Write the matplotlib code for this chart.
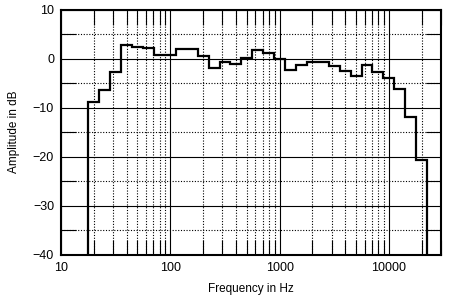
import matplotlib
matplotlib.use('Agg')
import matplotlib.pyplot as plt
from matplotlib.ticker import LogLocator, FixedLocator, NullFormatter

# third-octave band edges (Hz) and measured level per band (dB)
band_edges = [17.8, 22.4, 28.2, 35.5, 44.7, 56.2, 70.8, 89.1, 112, 141, 178,
              224, 282, 355, 447, 562, 708, 891, 1122, 1413, 1778, 2239, 2818,
              3548, 4467, 5623, 7079, 8913, 11220, 14125, 17783, 22387]
band_levels = [-8.9, -6.4, -2.7, 2.7, 2.45, 2.2, 0.8, 0.8, 2.0, 2.0, 0.6,
               -2.0, -0.7, -1.0, 0.1, 1.8, 1.2, -0.1, -2.3, -1.3, -0.6, -0.6,
               -1.5, -2.6, -3.5, -1.35, -2.8, -3.9, -6.2, -12.0, -20.7]

x_ticks = [10, 100, 1000, 10000]
x_labels = ['10', '100', '1000', '10000']
y_ticks = [-40, -30, -20, -10, 0, 10]
y_minor = [-35, -25, -15, -5, 5]

plt.rcParams['font.family'] = ['Liberation Sans', 'DejaVu Sans']

fig = plt.figure(figsize=(4.5, 3), dpi=100)
ax = fig.add_axes([0.1356, 0.151, 0.8444, 0.8167])

ax.set_xscale('log')
ax.set_xlim(10, 30000)
ax.set_ylim(-40, 10)

ax.set_xticks(x_ticks)
ax.set_xticklabels(x_labels)
ax.xaxis.set_minor_locator(LogLocator(base=10, subs=range(2, 10)))
ax.xaxis.set_minor_formatter(NullFormatter())
ax.set_yticks(y_ticks)
ax.yaxis.set_minor_locator(FixedLocator(y_minor))

ax.grid(which='major', color='black', linewidth=0.8, linestyle='-')
ax.grid(which='minor', color='black', linewidth=0.8, linestyle=(0, (1, 1.5)))

ax.tick_params(which='major', direction='in', length=0, labelsize=9, pad=5)
ax.tick_params(which='minor', direction='in', length=11, width=0.8,
               top=True, right=True, bottom=True, left=True)

for s in ax.spines.values():
    s.set_linewidth(1.5)

ax.stairs(band_levels, band_edges, baseline=-40, color='black', linewidth=1.6)

ax.set_xlabel('Frequency in Hz', fontsize=8.5, labelpad=7)
ax.set_ylabel('Amplitude in dB', fontsize=8.5, labelpad=9)

fig.savefig('out.png', dpi=100)
